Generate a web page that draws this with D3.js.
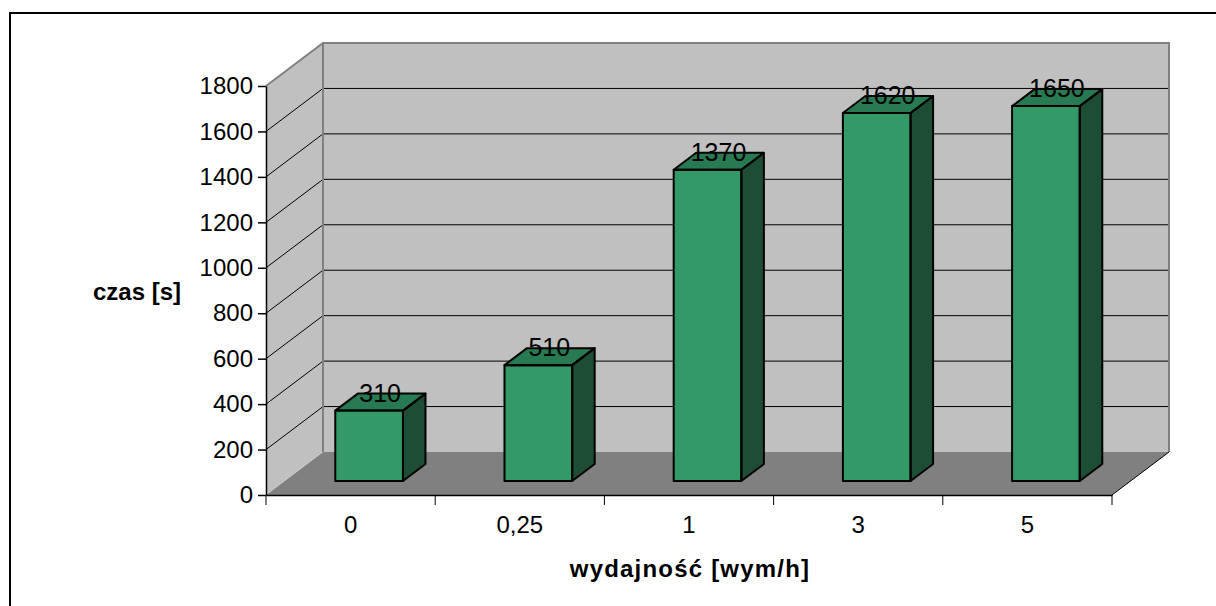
<!DOCTYPE html>
<html>
<head>
<meta charset="utf-8">
<script src="https://cdn.jsdelivr.net/npm/d3@7"></script>
<style>
  body { margin: 0; background: #fff; }
  svg { display: block; font-family: "Liberation Sans", Arial, sans-serif; }
</style>
</head>
<body>
<svg id="chart" width="1216" height="606"></svg>
<script>
// data
var categories = ["0", "0,25", "1", "3", "5"];
var values = [310, 510, 1370, 1620, 1650];
var yTicks = [0, 200, 400, 600, 800, 1000, 1200, 1400, 1600, 1800];
var yTitle = "czas [s]";
var xTitle = "wydajność [wym/h]";

var svg = d3.select("#chart");

// outer frame (runs off the picture at right and bottom)
svg.append("rect")
	.attr("x", 10).attr("y", 13)
	.attr("width", 1300).attr("height", 700)
	.attr("fill", "none").attr("stroke", "#000").attr("stroke-width", 2);

// scales
var x = d3.scaleBand().domain(categories).range([266, 1112])
	.paddingInner(0.6).paddingOuter(0.3);
var xAxisScale = d3.scaleBand().domain(categories).range([266, 1112]);
var y = d3.scaleLinear().domain([0, 1800]).range([495, 86]);

// depth of the 3d box
var DX = 57, DY = -43;
function pt(px, v, d) { return [px + d * DX, y(v) + d * DY]; }
var line = d3.line();

var x0 = 266, x1 = 1112, vMax = 1800;

// floor
svg.append("path")
	.attr("d", line([pt(x0, 0, 0), pt(x1, 0, 0), pt(x1, 0, 1), pt(x0, 0, 1)]) + "Z")
	.attr("fill", "#808080");

// side wall
svg.append("path")
	.attr("d", line([pt(x0, 0, 0), pt(x0, vMax, 0), pt(x0, vMax, 1), pt(x0, 0, 1)]) + "Z")
	.attr("fill", "#c0c0c0");

// back wall
svg.append("path")
	.attr("d", line([pt(x0, 0, 1), pt(x0, vMax, 1), pt(x1, vMax, 1), pt(x1, 0, 1)]) + "Z")
	.attr("fill", "#c0c0c0");

// gridlines
var grid = yTicks.filter(function(v) { return v > 0 && v < vMax; });
svg.selectAll(".gside").data(grid).enter().append("path")
	.attr("d", function(v) { return line([pt(x0, v, 0), pt(x0, v, 1)]); })
	.attr("stroke", "#000").attr("stroke-width", 1).attr("fill", "none");
svg.selectAll(".gback").data(grid).enter().append("path")
	.attr("d", function(v) { return line([pt(x0, v, 1), pt(x1, v, 1)]); })
	.attr("stroke", "#000").attr("stroke-width", 1).attr("fill", "none");

// wall edges
svg.append("path")
	.attr("d", line([pt(x0, vMax, 0), pt(x0, vMax, 1), pt(x1, vMax, 1), pt(x1, 0, 1)]))
	.attr("stroke", "#808080").attr("stroke-width", 2).attr("fill", "none");
svg.append("path")
	.attr("d", line([pt(x0, vMax, 1), pt(x0, 0, 1)]))
	.attr("stroke", "#808080").attr("stroke-width", 2).attr("fill", "none");
svg.append("path")
	.attr("d", line([pt(x1, 0, 0), pt(x1, 0, 1)]))
	.attr("stroke", "#000").attr("stroke-width", 1).attr("fill", "none");

// bars
var dFront = 0.325, dBack = 0.72;
var bars = svg.selectAll(".bar").data(values).enter().append("g").attr("class", "bar");

function barFaces(v, i) {
	var l = x(categories[i]), r = l + x.bandwidth();
	return {
		front: [pt(l, 0, dFront), pt(l, v, dFront), pt(r, v, dFront), pt(r, 0, dFront)],
		top: [pt(l, v, dFront), pt(l, v, dBack), pt(r, v, dBack), pt(r, v, dFront)],
		side: [pt(r, 0, dFront), pt(r, v, dFront), pt(r, v, dBack), pt(r, 0, dBack)]
	};
}

bars.append("path")
	.attr("d", function(v, i) { return line(barFaces(v, i).side) + "Z"; })
	.attr("fill", "#1d4d34");
bars.append("path")
	.attr("d", function(v, i) { return line(barFaces(v, i).top) + "Z"; })
	.attr("fill", "#277a51");
bars.append("path")
	.attr("d", function(v, i) { return line(barFaces(v, i).front) + "Z"; })
	.attr("fill", "#339966");
bars.selectAll(".edge").data(function(v, i) {
	var f = barFaces(v, i);
	return [f.side, f.top, f.front];
}).enter().append("path")
	.attr("d", function(p) { return line(p) + "Z"; })
	.attr("fill", "none").attr("stroke", "#000").attr("stroke-width", 2)
	.attr("stroke-linejoin", "round");

// data labels
bars.append("text")
	.attr("x", function(v, i) {
		return x(categories[i]) + x.bandwidth() / 2 + dFront * DX + 11;
	})
	.attr("y", function(v) { return y(v) + dFront * DY - 9; })
	.attr("text-anchor", "middle")
	.attr("font-size", 25)
	.attr("fill", "#000")
	.text(function(v) { return v; });

// y axis
var yAxis = svg.append("g")
	.attr("transform", "translate(266,0)")
	.call(d3.axisLeft(y).tickValues(yTicks).tickSize(8).tickPadding(5).tickSizeOuter(0)
		.tickFormat(d3.format("d")));
yAxis.selectAll("text").attr("font-size", 24).attr("fill", "#000")
	.attr("font-family", "Liberation Sans, Arial, sans-serif");
yAxis.selectAll("line, path").attr("stroke", "#000").attr("stroke-width", 1.5);

// x axis
var xAxis = svg.append("g")
	.attr("transform", "translate(0,495)")
	.call(d3.axisBottom(xAxisScale).tickSize(0).tickPadding(21).tickSizeOuter(0));
xAxis.selectAll("text").attr("font-size", 24).attr("fill", "#000")
	.attr("font-family", "Liberation Sans, Arial, sans-serif");
xAxis.select("path").attr("stroke", "#000").attr("stroke-width", 1.5);

// category boundary ticks
var bounds = d3.range(categories.length + 1).map(function(i) {
	return 266 + i * xAxisScale.step();
});
xAxis.selectAll(".btick").data(bounds).enter().append("line")
	.attr("x1", function(b) { return b; }).attr("x2", function(b) { return b; })
	.attr("y1", 0).attr("y2", 10)
	.attr("stroke", "#000").attr("stroke-width", 1);

// axis titles
svg.append("text")
	.attr("x", 137).attr("y", 300)
	.attr("text-anchor", "middle")
	.attr("font-size", 24).attr("font-weight", "bold")
	.text(yTitle);

svg.append("text")
	.attr("x", 690).attr("y", 577)
	.attr("text-anchor", "middle")
	.attr("font-size", 24).attr("font-weight", "bold")
	.attr("letter-spacing", 1.2)
	.text(xTitle);
</script>
</body>
</html>
